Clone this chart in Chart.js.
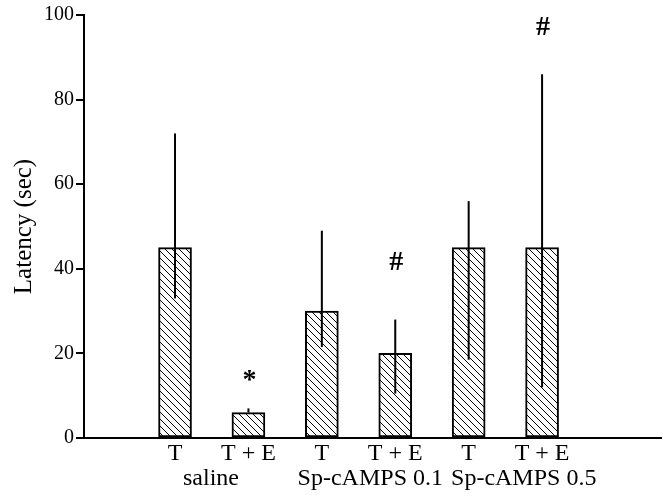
<!DOCTYPE html>
<html><head><meta charset="utf-8">
<script src="https://cdn.jsdelivr.net/npm/chart.js@4"></script>
<style>html,body{margin:0;padding:0;background:#fff}canvas{display:block}</style>
</head><body>
<canvas id="c" width="663" height="497"></canvas>
<script>
// ---- data ----
const tickLabels = ['T', 'T + E', 'T', 'T + E', 'T', 'T + E'];
const groupLabels = ['saline', 'Sp-cAMPS 0.1', 'Sp-cAMPS 0.5'];
const latency = [45, 6, 30, 20, 45, 45];
const errLow  = [33, 6, 21.5, 10.5, 18.5, 12];
const errHigh = [72, 7, 49, 28, 56, 86];
const marks = ['', '*', '', '#', '', '#'];
const markLevel = [null, 14.5, null, 41.5, null, 97];
const yTicks = [0, 20, 40, 60, 80, 100];

const SERIF = '"Liberation Serif", "Times New Roman", serif';
const canvas = document.getElementById('c');
const ctx = canvas.getContext('2d');

function hatchPattern() {
  const s = 7;
  const t = document.createElement('canvas');
  t.width = s; t.height = s;
  const g = t.getContext('2d');
  g.fillStyle = '#fff'; g.fillRect(0, 0, s, s);
  g.strokeStyle = '#000'; g.lineWidth = 1;
  g.beginPath();
  g.moveTo(-1, -1); g.lineTo(s + 1, s + 1);
  g.moveTo(-1, s - 1); g.lineTo(1, s + 1);
  g.moveTo(s - 1, -1); g.lineTo(s + 1, 1);
  g.stroke();
  return ctx.createPattern(t, 'repeat');
}

const positions = tickLabels.map((_, i) => i + 1);

const extras = {
  id: 'extras',
  afterDatasetsDraw(chart) {
    const xs = chart.scales.x, ys = chart.scales.y, c = chart.ctx;
    c.save();
    c.strokeStyle = '#000'; c.lineWidth = 2;
    positions.forEach((p, i) => {
      const x = xs.getPixelForValue(p);
      c.beginPath();
      c.moveTo(x, ys.getPixelForValue(errLow[i]));
      c.lineTo(x, ys.getPixelForValue(errHigh[i]));
      c.stroke();
    });
    c.fillStyle = '#000';
    c.textAlign = 'center'; c.textBaseline = 'middle';
    c.font = 'bold 28px ' + SERIF;
    positions.forEach((p, i) => {
      if (marks[i]) {
        c.fillText(marks[i], xs.getPixelForValue(p) + 1, ys.getPixelForValue(markLevel[i]) + (marks[i] === '*' ? 4 : 0));
      }
    });
    // group labels under the tick labels
    c.font = '24px ' + SERIF;
    const anchors = [1.49, 3.66, 5.75];
    groupLabels.forEach((g, i) => {
      c.fillText(g, xs.getPixelForValue(anchors[i]), 479);
    });
    c.restore();
  }
};

new Chart(canvas, {
  type: 'bar',
  data: {
    datasets: [{
      data: positions.map((p, i) => ({ x: p, y: latency[i] })),
      backgroundColor: hatchPattern(),
      borderColor: '#000',
      borderWidth: 2,
      borderSkipped: false,
      barThickness: 33
    }]
  },
  options: {
    responsive: false,
    animation: false,
    events: [],
    layout: { padding: { top: 15, right: 2, left: 0, bottom: 0 } },
    plugins: { legend: { display: false }, tooltip: { enabled: false } },
    scales: {
      x: {
        type: 'linear',
        offset: false,
        min: -0.24,
        max: 7.62,
        afterBuildTicks: (axis) => { axis.ticks = positions.map(v => ({ value: v })); },
        afterFit: (axis) => { axis.height = 59; },
        grid: { display: false, drawTicks: false, offset: false },
        border: { color: '#000', width: 2 },
        ticks: {
          autoSkip: false,
          maxRotation: 0,
          padding: 1,
          color: '#000',
          font: { family: SERIF, size: 24 },
          callback: (v) => tickLabels[v - 1] ?? ''
        }
      },
      y: {
        min: 0,
        max: 100,
        afterBuildTicks: (axis) => { axis.ticks = yTicks.map(v => ({ value: v })); },
        afterFit: (axis) => { axis.width = 84; },
        grid: { display: true, drawOnChartArea: false, drawTicks: true, tickLength: 8, color: '#000', lineWidth: 2 },
        border: { color: '#000', width: 2 },
        ticks: { color: '#000', padding: 2, font: { family: SERIF, size: 20 } },
        title: {
          display: true,
          text: 'Latency (sec)',
          color: '#000',
          font: { family: SERIF, size: 25 },
          padding: { top: 9, bottom: 0 }
        }
      }
    }
  },
  plugins: [extras]
});
</script>
</body></html>
